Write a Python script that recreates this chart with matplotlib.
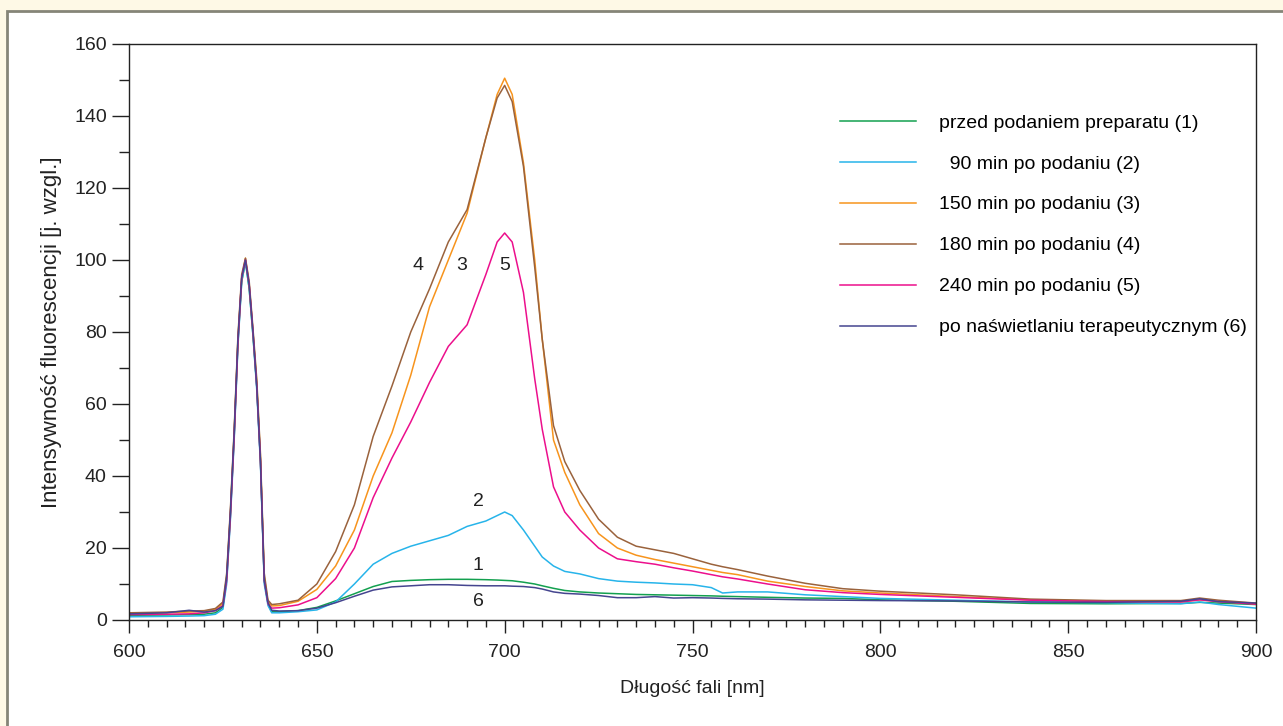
"""
Widmo fluorescencji przed i po podaniu preparatu (odtworzenie wykresu).
"""

import matplotlib
matplotlib.use("Agg")
import matplotlib.pyplot as plt
from matplotlib.patches import Rectangle
from matplotlib.ticker import MultipleLocator

plt.rcParams["font.family"] = ["Liberation Sans", "DejaVu Sans"]

wl = [600, 610, 616, 620, 623, 625, 626, 627, 628, 629, 630, 631, 632, 633,
      634, 635, 636, 637, 638, 640, 645, 650, 655, 660, 665, 670, 675, 680,
      685, 690, 695, 698, 700, 702, 705, 708, 710, 713, 716, 720, 725, 730,
      735, 740, 745, 750, 755, 758, 762, 770, 780, 790, 800, 820, 840, 860,
      880, 885, 890, 900]

# pik lasera 626-637 nm (wspolny dla wszystkich pomiarow)
s1 = [1.3, 1.4, 1.5, 1.6, 2.0, 3.5, 11, 29, 51, 77, 94, 99.5, 92, 79,
      65, 44, 11, 4.5, 2.3, 2.3, 2.6, 3.5, 5.3, 7.3, 9.3, 10.7, 11.0, 11.2,
      11.3, 11.3, 11.2, 11.1, 11.0, 10.9, 10.5, 10.0, 9.5, 8.8, 8.2, 7.8, 7.5, 7.3,
      7.1, 7.0, 6.9, 6.8, 6.7, 6.6, 6.5, 6.3, 6.1, 6.0, 5.6, 5.2, 4.6, 4.5,
      4.6, 4.9, 4.7, 4.3]
s2 = [0.9, 1.0, 1.1, 1.2, 1.6, 3.0, 10, 28, 50, 76, 94, 99.5, 92, 79,
      64, 43, 10, 4.0, 2.0, 2.0, 2.3, 2.8, 5.0, 10.0, 15.5, 18.5, 20.5, 22.0,
      23.5, 26.0, 27.5, 29.0, 30.0, 29.0, 25.0, 20.5, 17.5, 15.0, 13.5, 12.8, 11.5, 10.8,
      10.5, 10.3, 10.0, 9.8, 9.0, 7.5, 7.8, 7.8, 7.0, 6.5, 6.0, 5.5, 5.0, 4.8,
      4.5, 5.0, 4.3, 3.3]
s3 = [1.8, 2.0, 2.2, 2.4, 3.0, 4.5, 12, 30, 52, 78, 95, 100.5, 93, 80,
      66, 45, 12, 5.0, 3.9, 4.0, 5.2, 8.5, 15.0, 25.0, 40.0, 52.0, 68.0, 87.0,
      100.0, 113.0, 134.0, 146.0, 150.5, 146.0, 127.0, 100.0, 78.0, 50.0, 41.0, 32.0, 24.0, 20.0,
      18.0, 16.8, 15.8, 14.8, 13.8, 13.2, 12.6, 10.8, 9.3, 8.1, 7.5, 6.5, 5.6, 5.2,
      5.1, 5.6, 5.2, 4.5]
s4 = [2.0, 2.2, 2.5, 2.6, 3.2, 5.0, 13, 31, 53, 79, 96, 100.5, 94, 81,
      67, 46, 13, 5.5, 4.3, 4.5, 5.5, 10.0, 19.0, 32.0, 51.0, 65.0, 80.0, 92.0,
      105.0, 114.0, 134.0, 145.0, 148.5, 144.0, 126.0, 98.0, 78.0, 54.0, 44.0, 36.0, 28.0, 23.0,
      20.5, 19.5, 18.5, 17.0, 15.5, 14.8, 14.0, 12.2, 10.2, 8.7, 8.0, 7.0, 5.8, 5.4,
      5.4, 6.1, 5.5, 4.7]
s5 = [1.5, 1.6, 1.7, 2.0, 2.6, 4.0, 11, 29, 51, 77, 95, 100.0, 93, 80,
      65, 44, 11, 4.5, 3.3, 3.4, 4.2, 6.2, 11.5, 20.0, 34.0, 45.0, 55.0, 66.0,
      76.0, 82.0, 96.0, 105.0, 107.5, 105.0, 91.0, 67.0, 53.0, 37.0, 30.0, 25.0, 20.0, 17.0,
      16.2, 15.5, 14.5, 13.6, 12.6, 12.0, 11.4, 10.0, 8.4, 7.6, 7.1, 6.3, 5.5, 5.1,
      5.0, 5.6, 5.1, 4.4]
s6 = [1.7, 2.0, 2.7, 2.2, 2.6, 3.8, 12, 30, 52, 78, 95, 100.0, 93, 80,
      65, 44, 11, 4.8, 2.7, 2.5, 2.6, 3.3, 4.8, 6.6, 8.3, 9.2, 9.5, 9.8,
      9.8, 9.6, 9.5, 9.5, 9.5, 9.4, 9.3, 9.0, 8.6, 7.8, 7.4, 7.2, 6.8, 6.2,
      6.2, 6.5, 6.1, 6.2, 6.1, 6.0, 5.9, 5.8, 5.6, 5.5, 5.4, 5.3, 5.0, 4.9,
      5.2, 5.9, 5.1, 4.7]

labels = ["przed podaniem preparatu (1)", "  90 min po podaniu (2)",
          "150 min po podaniu (3)", "180 min po podaniu (4)",
          "240 min po podaniu (5)", "po naświetlaniu terapeutycznym (6)"]
colors = ["#13a04f", "#27b4ea", "#f7941d", "#9a623c", "#ec0f8c", "#45458f"]

# numery krzywych: (tekst, x, y)
tags = [("4", 677, 98.5), ("3", 688.5, 98.5), ("5", 700, 98.5),
        ("2", 693, 33), ("1", 693, 15), ("6", 693, 5)]

fig = plt.figure(figsize=(12.83, 7.26), dpi=100, facecolor="#fef9e6")
fig.add_artist(Rectangle((7 / 1283, -0.1), 1.2, 1.1 - 11 / 726,
                         transform=fig.transFigure, facecolor="white",
                         edgecolor="#858578", lw=2, zorder=0))
ax = fig.add_axes([129 / 1283, 106 / 726, 1127 / 1283, 576 / 726])
ax.set_facecolor("white")

for ys, lab, c in zip([s1, s2, s3, s4, s5, s6], labels, colors):
    ax.plot(wl, ys, color=c, lw=1.1, label=lab)

for t, x, y in tags:
    ax.text(x, y, t, fontsize=14, color="#222222", ha="center", va="center")

ax.set_xlim(600, 900)
ax.set_ylim(0, 160)
ax.xaxis.set_major_locator(MultipleLocator(50))
ax.xaxis.set_minor_locator(MultipleLocator(5))
ax.yaxis.set_major_locator(MultipleLocator(20))
ax.yaxis.set_minor_locator(MultipleLocator(10))
ax.tick_params(which="major", direction="out", length=9, width=1,
               labelsize=14, color="#222222", labelcolor="#222222", pad=4)
ax.tick_params(which="minor", direction="out", length=5, width=1,
               color="#222222")
ax.tick_params(axis="y", which="major", length=12)
ax.tick_params(axis="y", which="minor", length=7)
ax.tick_params(axis="x", which="major", pad=8)
for s in ax.spines.values():
    s.set_linewidth(1)
    s.set_color("#222222")

ax.set_xlabel("Długość fali [nm]", fontsize=14, color="#222222", labelpad=14)
ax.set_ylabel("Intensywność fluorescencji [j. wzgl.]", fontsize=16,
              color="#222222", labelpad=9)

ax.legend(loc="upper left", bbox_to_anchor=(0.624, 0.892), frameon=False,
          fontsize=14, handlelength=3.9, handletextpad=1.2,
          labelspacing=1.2, borderaxespad=0)

fig.savefig("out.png", dpi=100, facecolor=fig.get_facecolor())
print("Wrote out.png")
